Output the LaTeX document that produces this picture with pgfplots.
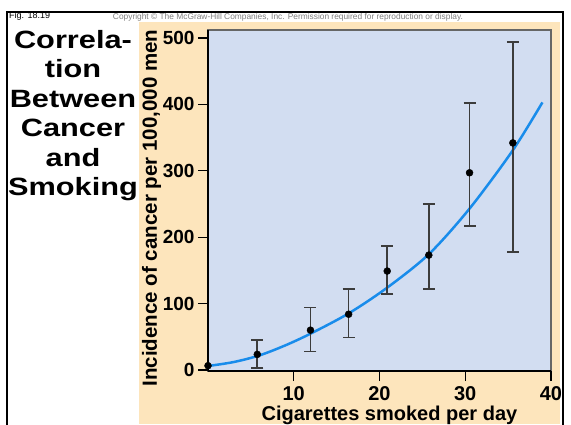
\documentclass[border=0pt]{standalone}
\usepackage{pgfplots}
\pgfplotsset{compat=1.18}
\usepackage{fontspec}
\setmainfont{Liberation Sans}
\newfontfamily\titlefont[FakeStretch=1.23]{Liberation Sans}
\definecolor{tanbg}{RGB}{253,229,188}
\definecolor{plotbg}{RGB}{210,221,241}
\definecolor{curveblue}{RGB}{25,140,235}
\definecolor{errc}{RGB}{60,60,60}
\begin{document}
\begin{tikzpicture}[x=1pt,y=1pt]
\path[use as bounding box, fill=white] (0,0) rectangle (571,424);
\fill[tanbg] (139,0) rectangle (560,402);
\draw[line width=2pt] (7,-5) -- (7,412) -- (562.5,412) -- (562.5,-5);
\node[anchor=base west, inner sep=0pt, font=\fontsize{9}{10}\selectfont] at (9,405) {Fig. 18.19};
\node[anchor=base, inner sep=0pt, text=gray] at (288,404) {\resizebox{350pt}{!}{\fontsize{6}{7}\selectfont Copyright \textcopyright\ The McGraw-Hill Companies, Inc. Permission required for reproduction or display.}};
\foreach \t [count=\i from 0] in {Correla-,tion,Between,Cancer,and,Smoking}{
  \node[anchor=base, inner sep=0pt, font=\titlefont\bfseries\fontsize{25}{29}\selectfont] at (73,{424-48.3-29.5*\i}) {\t};
}
\begin{axis}[
  at={(208pt,53pt)}, anchor=south west, scale only axis,
  width=343pt, height=341pt,
  xmin=0, xmax=40, ymin=-1.5, ymax=512,
  clip=false,
  axis lines*=left,
  axis line style={black, line width=1.3pt},
  axis background/.style={fill=plotbg, draw=gray!80!black, line width=1.2pt},
  xtick={10,20,30,40}, ytick={0,100,200,300,400,500},
  tick align=outside, major tick length=10pt,
  tick style={black, line width=1.2pt},
  /pgf/number format/assume math mode=true,
  xticklabel style={font=\bfseries\fontsize{20}{20}\selectfont, inner sep=0pt, yshift=-5pt},
  yticklabel style={font=\bfseries\fontsize{19}{19}\selectfont},
  xlabel={Cigarettes smoked per day},
  ylabel={Incidence of cancer per 100,000 men},
  label style={font=\bfseries\fontsize{20.5}{22}\selectfont},
  xlabel style={font=\bfseries\fontsize{20}{22}\selectfont, at={(axis description cs:0.529,-0.1437)}, anchor=base, inner sep=0pt},
  ylabel style={at={(axis description cs:-0.149,0.478)}, anchor=base},
]
\addplot[curveblue, line width=2.5pt, smooth, no marks] coordinates {
 (0,6) (3,12) (6,22) (9,37) (12,55) (16.5,86) (21,125) (25.8,175) (30.5,243) (35.5,330) (39,403)
};
\addplot[only marks, mark=*, mark size=3.5pt, black,
  error bars/.cd, y dir=both, y explicit,
  error bar style={errc, line width=1.7pt},
  error mark options={errc, line width=1.7pt, mark size=6pt, rotate=90}]
 coordinates {
 (5.75,23.5) += (0,21.5) -= (0,21)
 (11.95,60) += (0,34) -= (0,32)
 (16.4,84) += (0,37.5) -= (0,35)
 (20.9,149) += (0,38) -= (0,35)
 (25.75,173) += (0,77) -= (0,51)
 (30.5,297) += (0,105) -= (0,80)
 (35.55,342) += (0,152) -= (0,164)
};
\addplot[only marks, mark=*, mark size=3.5pt, black] coordinates {(0,6.5)};
\end{axis}
\end{tikzpicture}
\end{document}
